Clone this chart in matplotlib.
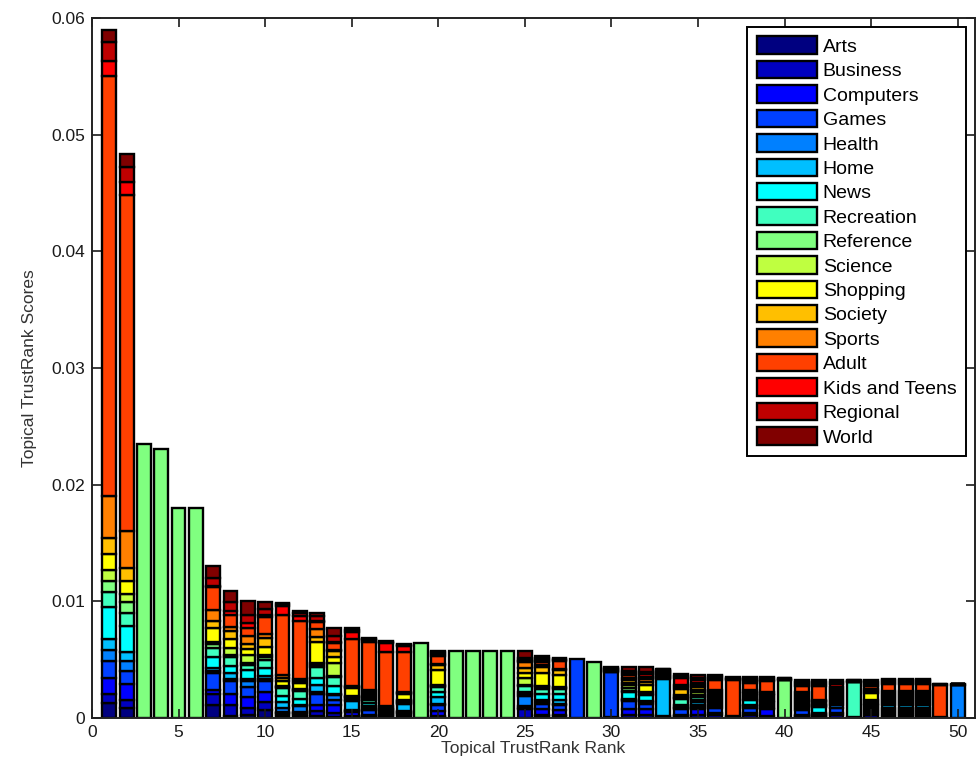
import numpy as np
import matplotlib
matplotlib.use('Agg')
import matplotlib.pyplot as plt
from matplotlib.ticker import FuncFormatter

plt.rcParams['font.family'] = ['Liberation Sans', 'DejaVu Sans']

# 막대 순위 1..50
ranks = np.arange(1, 51)

# 주제별 점수 (단위: 1e-4), 막대 1~50 순서
unit = 1e-4
arts = [13, 8.6, 0, 0, 0, 0, 11.1, 1.7, 2.6, 6.9,
        1.7, 1.7, 1.7, 0.9, 0.9, 0.9, 0.9, 1.7, 0, 0.9,
        0, 0, 0, 0, 0.4, 1.7, 1.7, 0, 0, 0.3,
        0.4, 0.4, 0.3, 0.9, 0.4, 0.4, 0.1, 0.4, 0.4, 0,
        0.9, 0.7, 0.4, 0.1, 0.4, 1.8, 1.8, 1.8, 0.05, 0.05]
business = [7.6, 6.8, 0, 0, 0, 0, 9.4, 9.4, 6.0, 6.9,
            1.7, 1.7, 4.3, 3.4, 0.9, 0.9, 0.9, 1.7, 0, 0.9,
            0, 0, 0, 0, 7.3, 0.9, 0.9, 0, 0, 0.3,
            2.6, 2.6, 0.3, 0.9, 2.6, 2.6, 0.1, 2.6, 0.9, 0,
            0.9, 0.7, 2.6, 0.1, 2.6, 1.8, 1.8, 1.8, 0.05, 0.05]
computers = [13.7, 13.6, 0, 0, 0, 0, 3.4, 9.4, 9.4, 8.6,
             0.9, 0.9, 5.1, 6.9, 3.4, 0.9, 0.9, 0.9, 0, 4.3,
             0, 0, 0, 0, 0.9, 5.1, 4.3, 0, 0, 0.3,
             4.3, 4.3, 0.3, 0.9, 4.3, 1.7, 0.1, 1.7, 6.0, 0,
             0.9, 0.7, 1.7, 0.1, 1.55, 1.8, 1.8, 1.8, 0.05, 0.05]
games = [14.6, 11, 0, 0, 0, 0, 14.6, 11.1, 8.6, 9.4,
         0.9, 0.9, 9.4, 4.3, 0.9, 4.3, 0.9, 0.9, 0, 5.1,
         0, 0, 0, 0, 1.7, 4.3, 4.3, 51, 0, 38.6,
         6.9, 5.1, 0.3, 5.1, 2.1, 4.3, 0.1, 4.3, 1.5, 0,
         4.3, 0.7, 4.3, 0.1, 1.55, 1.8, 1.8, 1.8, 0.05, 0.05]
health = [9.4, 9, 0, 0, 0, 0, 1.7, 1.7, 5.1, 1.7,
          3.4, 5.1, 1.7, 4.3, 0.9, 1.7, 0.9, 0.9, 0, 0.9,
          0, 0, 0, 0, 8.6, 1.7, 0.9, 0, 0, 0.3,
          0.9, 0.9, 0.3, 0.9, 2.1, 1.7, 0.1, 0.9, 1.5, 0,
          1.7, 0.7, 1.8, 0.1, 1.55, 1.8, 1.8, 1.8, 0.05, 28.3]
home = [9.4, 7.6, 0, 0, 0, 0, 2.6, 5.1, 1.7, 2.6,
        5.1, 0.9, 6.0, 0.9, 7.7, 1.7, 0.9, 6.0, 0, 6.0,
        0, 0, 0, 0, 1.7, 1.7, 3.4, 0, 0, 0.3,
        0.9, 0.9, 32.1, 0.9, 2.1, 1.7, 0.1, 0.9, 1.5, 0,
        1.7, 0.7, 1.8, 0.1, 1.55, 1.8, 1.8, 1.8, 0.05, 0.07]
news = [27.4, 22.3, 0, 0, 0, 0, 9.4, 6.0, 7.7, 6.9,
        5.1, 5.1, 6.0, 6.9, 0.9, 2.6, 0.9, 0.9, 0, 4.3,
        0, 0, 0, 0, 1.7, 5.1, 5.1, 0, 0, 0.3,
        6.0, 5.1, 0.8, 1.7, 2.1, 1.7, 0.1, 4.3, 1.5, 0,
        1.7, 5.1, 1.8, 0.1, 1.55, 1.8, 1.8, 1.8, 0.05, 0.07]
recreation = [13, 11, 0, 0, 0, 0, 7.7, 7.7, 4.3, 6.9,
              6.9, 6.9, 9.4, 7.7, 1.7, 2.6, 0.9, 0.9, 0, 4.3,
              0, 0, 0, 0, 5.1, 4.3, 4.3, 0, 0, 0.3,
              1.3, 1.7, 0.8, 5.1, 2.1, 1.7, 0.1, 1.5, 1.5, 0,
              1.7, 1.0, 1.8, 30.0, 1.55, 1.8, 1.8, 1.8, 0.05, 0.07]
reference = [9.4, 9.4, 235, 231, 180, 180, 3.4, 1.7, 1.7, 2.6,
             0.9, 0.9, 1.7, 0.9, 0.9, 1.7, 0.9, 0.9, 64, 0.9,
             57.5, 57.5, 57.5, 57.5, 0.9, 1.7, 0.9, 0, 48, 0.3,
             2.3, 0.9, 0.8, 0.9, 2.1, 1.7, 0.1, 1.5, 1.5, 32.6,
             1.7, 1.0, 1.8, 0.2, 1.55, 1.8, 1.8, 1.8, 0.05, 0.07]
science = [9.5, 7, 0, 0, 0, 0, 1.7, 6.0, 6.9, 1.7,
           0.9, 0.9, 1.7, 11.1, 0.9, 1.7, 0.9, 0.9, 0, 0.9,
           0, 0, 0, 0, 6.0, 0.9, 0.9, 0, 0, 0.3,
           2.3, 0.4, 0.8, 0.9, 2.1, 1.7, 0.1, 1.5, 1.5, 0.2,
           1.7, 1.0, 1.8, 0.2, 1.55, 1.8, 1.8, 1.8, 0.05, 0.07]
shopping = [13.7, 11, 0, 0, 0, 0, 12.0, 7.7, 5.1, 6.9,
            4.3, 5.1, 18.0, 5.1, 6.9, 1.7, 0.9, 5.1, 0, 12.9,
            0, 0, 0, 0, 4.3, 11.1, 10.3, 0, 0, 0.3,
            2.3, 6.0, 0.8, 1.3, 2.1, 1.7, 0.1, 1.5, 1.5, 0.2,
            1.7, 1.0, 1.8, 0.2, 6.0, 1.8, 1.8, 1.8, 0.05, 0.07]
society = [13.7, 11, 0, 0, 0, 0, 6.0, 6.9, 4.3, 7.7,
           2.6, 1.7, 4.3, 5.1, 0.9, 1.7, 0.4, 0.9, 0, 4.3,
           0, 0, 0, 0, 4.3, 5.1, 4.3, 0, 0, 0.3,
           2.2, 2.4, 0.8, 5.1, 2.1, 1.7, 0.1, 1.5, 1.5, 0.2,
           1.7, 1.0, 1.8, 0.2, 1.9, 1.8, 1.8, 1.8, 0.05, 0.07]
sports = [36, 32, 0, 0, 0, 0, 9.4, 3.4, 6.9, 3.4,
          2.6, 1.7, 6.9, 0.9, 0.9, 1.7, 0.4, 0.9, 0, 0.9,
          0, 0, 0, 0, 5.1, 1.7, 0.9, 0, 0, 0.3,
          2.3, 2.4, 0.8, 1.7, 2.1, 1.7, 0.1, 1.5, 1.5, 0.2,
          1.7, 1.0, 1.8, 0.2, 1.9, 1.8, 1.8, 1.8, 0.05, 0.07]
adult = [360, 288, 0, 0, 0, 0, 19.7, 10.3, 6.9, 14.6,
         51.4, 49.7, 6.0, 6.0, 40.3, 41.1, 46.3, 34.3, 0, 6.9,
         0, 0, 0, 0, 0.9, 2.6, 6.9, 0, 0, 0.3,
         2.2, 2.4, 0.8, 1.7, 2.1, 8.6, 31.7, 6.0, 9.4, 0.2,
         5.1, 12.0, 1.8, 0.2, 1.9, 6.0, 6.0, 6.0, 27.4, 0.07]
kids = [13, 11, 0, 0, 0, 0, 0.9, 3.4, 4.3, 1.7,
        7.7, 4.3, 0.9, 0.9, 6.0, 1.7, 6.9, 5.1, 0, 1.7,
        0, 0, 0, 0, 0.9, 1.7, 0.9, 0, 0, 0.3,
        1.7, 2.4, 0.8, 6.0, 2.1, 1.4, 0.8, 1.7, 1.1, 0.2,
        1.7, 1.7, 1.8, 0.2, 1.9, 1.4, 1.4, 1.4, 0.4, 0.07]
regional = [16, 13, 0, 0, 0, 0, 6.9, 7.7, 6.9, 5.1,
            1.7, 2.6, 4.3, 5.1, 1.7, 0.9, 0.9, 0.9, 0, 1.7,
            0, 0, 0, 0, 1.7, 1.7, 0.9, 0, 0, 0.3,
            1.7, 1.7, 0.8, 2.1, 2.1, 1.4, 0.8, 1.7, 1.1, 0.2,
            1.7, 1.7, 1.8, 0.2, 1.9, 1.4, 1.4, 1.4, 0.4, 0.07]
world = [10, 11, 0, 0, 0, 0, 10.3, 9.4, 12.0, 6.0,
         0.9, 1.7, 2.6, 6.9, 1.7, 0.9, 0.9, 0.9, 0, 0.9,
         0, 0, 0, 0, 6.0, 1.7, 0.9, 0, 0, 0.3,
         3.4, 4.3, 0.8, 1.7, 2.1, 1.4, 0.8, 1.7, 1.1, 0.2,
         1.7, 1.7, 1.8, 0.2, 1.9, 1.4, 1.4, 1.4, 0.4, 0.07]

topics = ['Arts', 'Business', 'Computers', 'Games', 'Health', 'Home', 'News',
          'Recreation', 'Reference', 'Science', 'Shopping', 'Society', 'Sports',
          'Adult', 'Kids and Teens', 'Regional', 'World']
series = [arts, business, computers, games, health, home, news, recreation,
          reference, science, shopping, society, sports, adult, kids,
          regional, world]

x_ticks = [0, 5, 10, 15, 20, 25, 30, 35, 40, 45, 50]
y_ticks = [0, 0.01, 0.02, 0.03, 0.04, 0.05, 0.06]

# MATLAB 식 jet 색상 (17단계)
t = np.linspace(0, 1, len(topics))
colors = np.stack([np.clip(1.5 - np.abs(4 * t - 3), 0, 1),
                   np.clip(1.5 - np.abs(4 * t - 2), 0, 1),
                   np.clip(1.5 - np.abs(4 * t - 1), 0, 1)], axis=1)

fig = plt.figure(figsize=(9.79, 7.73), dpi=100)
ax = fig.add_axes([92 / 979, 55 / 773, 883 / 979, 700 / 773])

# 누적 막대 (검은 테두리), 높이 0인 조각은 그리지 않음
bottom = np.zeros(len(ranks))
handles = []
for name, vals, col in zip(topics, series, colors):
    v = np.array(vals) * unit
    nz = v > 0
    h = ax.bar(ranks[nz], v[nz], width=0.8, bottom=bottom[nz], color=col,
               edgecolor='black', linewidth=1.7, label=name)
    handles.append(h)
    bottom += v

ax.set_xlim(0, 51)
ax.set_ylim(0, 0.06)
ax.set_xticks(x_ticks)
ax.set_yticks(y_ticks)
ax.yaxis.set_major_formatter(FuncFormatter(lambda v, p: f'{v:g}'))
ax.tick_params(direction='in', length=6.5, width=1.2, top=True, right=True,
               labelsize=12.5, colors='#1a1a1a', pad=5)
for s in ax.spines.values():
    s.set_linewidth(1.4)
    s.set_color('#222222')

ax.set_xlabel('Topical TrustRank Rank', fontsize=12.5, color='#333333', labelpad=1)
ax.set_ylabel('Topical TrustRank Scores', fontsize=12.5, color='#333333', labelpad=10)

leg = ax.legend(handles=handles, loc='upper right', fontsize=14,
                handlelength=3.1, handleheight=1.0, handletextpad=0.3,
                labelspacing=0.26, borderpad=0.5, borderaxespad=0.45,
                fancybox=False, framealpha=1, edgecolor='black')
leg.get_frame().set_linewidth(1.4)

fig.savefig('out.png', dpi=100)
